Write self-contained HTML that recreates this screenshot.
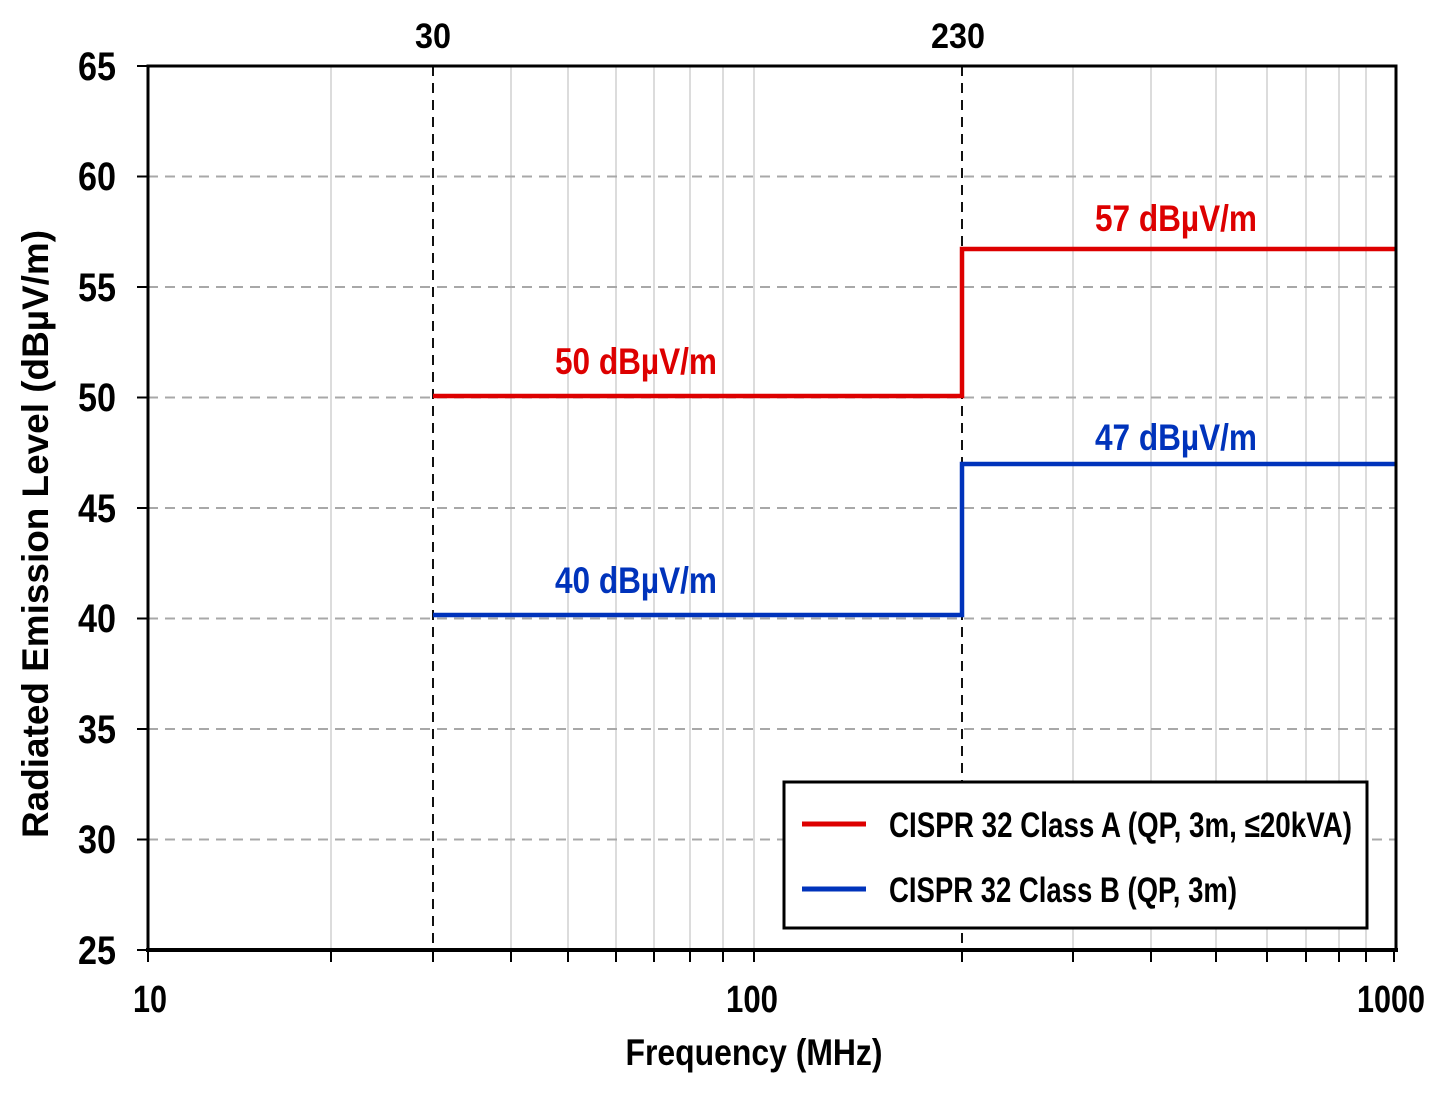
<!DOCTYPE html>
<html><head><meta charset="utf-8"><style>
html,body{margin:0;padding:0;background:#fff}
svg{display:block}
text{font-family:"Liberation Sans",sans-serif;font-weight:bold}
</style></head><body>
<svg width="1433" height="1098" viewBox="0 0 1433 1098" xmlns="http://www.w3.org/2000/svg">
<rect width="1433" height="1098" fill="#fff"/>
<g stroke="#d0d0d0" stroke-width="1.5">
<line x1="331" y1="66" x2="331" y2="950"/>
<line x1="511" y1="66" x2="511" y2="950"/>
<line x1="568" y1="66" x2="568" y2="950"/>
<line x1="616" y1="66" x2="616" y2="950"/>
<line x1="654" y1="66" x2="654" y2="950"/>
<line x1="690" y1="66" x2="690" y2="950"/>
<line x1="723" y1="66" x2="723" y2="950"/>
<line x1="754" y1="66" x2="754" y2="950"/>
<line x1="1073" y1="66" x2="1073" y2="950"/>
<line x1="1151" y1="66" x2="1151" y2="950"/>
<line x1="1216" y1="66" x2="1216" y2="950"/>
<line x1="1267" y1="66" x2="1267" y2="950"/>
<line x1="1306" y1="66" x2="1306" y2="950"/>
<line x1="1339" y1="66" x2="1339" y2="950"/>
<line x1="1366" y1="66" x2="1366" y2="950"/>
</g>
<g stroke="#a8a8a8" stroke-width="2" stroke-dasharray="10,7">
<line x1="148" y1="176.5" x2="1396" y2="176.5"/>
<line x1="148" y1="287" x2="1396" y2="287"/>
<line x1="148" y1="397.5" x2="1396" y2="397.5"/>
<line x1="148" y1="508" x2="1396" y2="508"/>
<line x1="148" y1="618.5" x2="1396" y2="618.5"/>
<line x1="148" y1="729" x2="1396" y2="729"/>
<line x1="148" y1="839.5" x2="1396" y2="839.5"/>
</g>
<g stroke="#111" stroke-width="2" stroke-dasharray="10,7">
<line x1="433" y1="66" x2="433" y2="950"/>
<line x1="962" y1="66" x2="962" y2="950"/>
</g>
<polyline points="433,396 962,396 962,249 1396,249" fill="none" stroke="#dd0000" stroke-width="4.5"/>
<polyline points="433,615 962,615 962,464 1396,464" fill="none" stroke="#0033bb" stroke-width="4.5"/>
<rect x="148" y="66" width="1248" height="884" fill="none" stroke="#000" stroke-width="3"/>
<line x1="146" y1="950" x2="1398" y2="950" stroke="#000" stroke-width="4"/>
<g stroke="#000" stroke-width="2">
<line x1="137" y1="66" x2="148" y2="66"/>
<line x1="137" y1="176.5" x2="148" y2="176.5"/>
<line x1="137" y1="287" x2="148" y2="287"/>
<line x1="137" y1="397.5" x2="148" y2="397.5"/>
<line x1="137" y1="508" x2="148" y2="508"/>
<line x1="137" y1="618.5" x2="148" y2="618.5"/>
<line x1="137" y1="729" x2="148" y2="729"/>
<line x1="137" y1="839.5" x2="148" y2="839.5"/>
<line x1="137" y1="950" x2="148" y2="950"/>
<line x1="148" y1="950" x2="148" y2="962"/>
<line x1="331" y1="950" x2="331" y2="962"/>
<line x1="433" y1="950" x2="433" y2="962"/>
<line x1="511" y1="950" x2="511" y2="962"/>
<line x1="568" y1="950" x2="568" y2="962"/>
<line x1="616" y1="950" x2="616" y2="962"/>
<line x1="654" y1="950" x2="654" y2="962"/>
<line x1="690" y1="950" x2="690" y2="962"/>
<line x1="723" y1="950" x2="723" y2="962"/>
<line x1="754" y1="950" x2="754" y2="962"/>
<line x1="962" y1="950" x2="962" y2="962"/>
<line x1="1073" y1="950" x2="1073" y2="962"/>
<line x1="1151" y1="950" x2="1151" y2="962"/>
<line x1="1216" y1="950" x2="1216" y2="962"/>
<line x1="1267" y1="950" x2="1267" y2="962"/>
<line x1="1306" y1="950" x2="1306" y2="962"/>
<line x1="1339" y1="950" x2="1339" y2="962"/>
<line x1="1366" y1="950" x2="1366" y2="962"/>
<line x1="1394" y1="950" x2="1394" y2="962"/>
</g>
<g font-size="40" text-anchor="end" fill="#000">
<text x="116" y="80" textLength="38" lengthAdjust="spacingAndGlyphs">65</text>
<text x="116" y="190" textLength="38" lengthAdjust="spacingAndGlyphs">60</text>
<text x="116" y="301" textLength="38" lengthAdjust="spacingAndGlyphs">55</text>
<text x="116" y="411" textLength="38" lengthAdjust="spacingAndGlyphs">50</text>
<text x="116" y="522" textLength="38" lengthAdjust="spacingAndGlyphs">45</text>
<text x="116" y="632" textLength="38" lengthAdjust="spacingAndGlyphs">40</text>
<text x="116" y="743" textLength="38" lengthAdjust="spacingAndGlyphs">35</text>
<text x="116" y="853" textLength="38" lengthAdjust="spacingAndGlyphs">30</text>
<text x="116" y="964" textLength="38" lengthAdjust="spacingAndGlyphs">25</text>
</g>
<g font-size="38" text-anchor="middle" fill="#000">
<text x="150" y="1012" textLength="34" lengthAdjust="spacingAndGlyphs">10</text>
<text x="752" y="1012" textLength="52" lengthAdjust="spacingAndGlyphs">100</text>
<text x="1391" y="1012" textLength="68" lengthAdjust="spacingAndGlyphs">1000</text>
<text x="433" y="48" font-size="35" textLength="36" lengthAdjust="spacingAndGlyphs">30</text>
<text x="958" y="48" font-size="35" textLength="54" lengthAdjust="spacingAndGlyphs">230</text>
</g>
<text x="754" y="1065" font-size="37" text-anchor="middle" textLength="257" lengthAdjust="spacingAndGlyphs">Frequency (MHz)</text>
<text transform="translate(48,534) rotate(-90)" font-size="37" text-anchor="middle" textLength="608" lengthAdjust="spacingAndGlyphs">Radiated Emission Level  (dBµV/m)</text>
<g font-size="37">
<text x="555" y="374" fill="#dd0000" textLength="162" lengthAdjust="spacingAndGlyphs">50 dBµV/m</text>
<text x="555" y="593" fill="#0033bb" textLength="162" lengthAdjust="spacingAndGlyphs">40 dBµV/m</text>
<text x="1095" y="231" fill="#dd0000" textLength="162" lengthAdjust="spacingAndGlyphs">57 dBµV/m</text>
<text x="1095" y="450" fill="#0033bb" textLength="162" lengthAdjust="spacingAndGlyphs">47 dBµV/m</text>
</g>
<rect x="784" y="782" width="583" height="146" fill="#fff" stroke="#000" stroke-width="3"/>
<line x1="802" y1="824" x2="866" y2="824" stroke="#dd0000" stroke-width="5"/>
<line x1="802" y1="889" x2="866" y2="889" stroke="#0033bb" stroke-width="5"/>
<g font-size="35" fill="#000">
<text x="889" y="837" textLength="463" lengthAdjust="spacingAndGlyphs">CISPR 32 Class A (QP, 3m, ≤20kVA)</text>
<text x="889" y="902" textLength="348" lengthAdjust="spacingAndGlyphs">CISPR 32 Class B (QP, 3m)</text>
</g>
</svg>
</body></html>
